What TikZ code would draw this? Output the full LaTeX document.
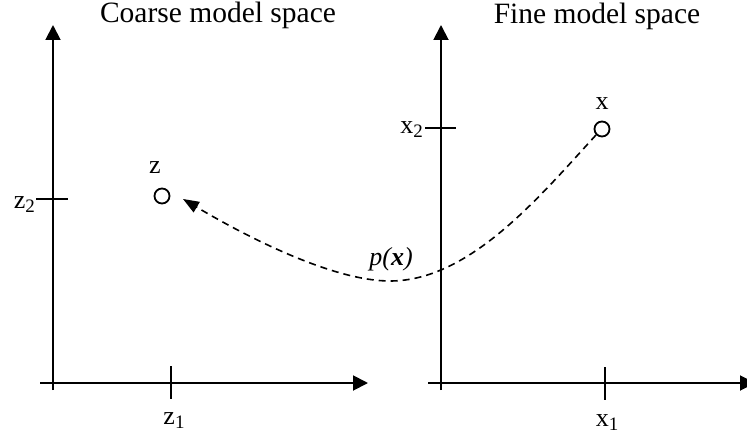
\documentclass[tikz,border=0pt]{standalone}
\usepackage{fontspec}
\setmainfont{Liberation Serif}
\usetikzlibrary{arrows.meta}
\newcommand\mysub[1]{\raisebox{-0.4ex}{\fontsize{19pt}{19pt}\selectfont #1}}
\begin{document}
\begin{tikzpicture}[x=1pt,y=-1pt,
  axis/.style={line width=1.9pt,-{Triangle[length=15pt,width=15pt]}},
  tickline/.style={line width=1.9pt},
  title/.style={font=\fontsize{29.5pt}{29.5pt}\selectfont,anchor=base,inner sep=0},
  lbl/.style={font=\fontsize{26pt}{26pt}\selectfont,inner sep=0},
  pt/.style={circle,draw,line width=1.8pt,minimum size=15pt,inner sep=0},
  mapping/.style={line width=1.6pt,dash pattern=on 7pt off 5pt,-{Triangle[length=16pt,width=12pt]}}]
\useasboundingbox (0,0) rectangle (747,436);
% titles
\node[title] (tc) at (218,23) {Coarse model space};
\node[title] (tf) at (597,24) {Fine model space};
% left axes
\coordinate (lvb) at (53,390);
\coordinate (lvt) at (53,25);
\coordinate (lhl) at (40,383);
\coordinate (lhr) at (368,383);
\draw[axis] (lvb) -- (lvt);
\draw[axis] (lhl) -- (lhr);
% right axes
\coordinate (rvb) at (441,390);
\coordinate (rvt) at (441,25);
\coordinate (rhl) at (428,383);
\coordinate (rhr) at (755,383);
\draw[axis] (rvb) -- (rvt);
\draw[axis] (rhl) -- (rhr);
% ticks
\coordinate (z1a) at (171,366); \coordinate (z1b) at (171,399);
\coordinate (z2a) at (36,199); \coordinate (z2b) at (68,199);
\coordinate (x1a) at (605,367); \coordinate (x1b) at (605,400);
\coordinate (x2a) at (425,128); \coordinate (x2b) at (456,128);
\draw[tickline] (z1a) -- (z1b);
\draw[tickline] (z2a) -- (z2b);
\draw[tickline] (x1a) -- (x1b);
\draw[tickline] (x2a) -- (x2b);
% tick labels
\node[lbl,anchor=base] (lz1) at (174,424) {z\mysub{1}};
\node[lbl,anchor=base east] (lz2) at (35,208) {z\mysub{2}};
\node[lbl,anchor=base] (lx1) at (607,426) {x\mysub{1}};
\node[lbl,anchor=base east] (lx2) at (423,133) {x\mysub{2}};
% points
\node[pt] (zc) at (162,196) {};
\node[pt] (xc) at (602,129) {};
\node[lbl,anchor=base] (zl) at (155,173) {z};
\node[lbl,anchor=base] (xl) at (602,110) {x};
% mapping
\coordinate (mn) at (390,281);
\coordinate (tip) at (183,199);
\draw[mapping] (xc.225) .. controls (540,196) and (470,281) .. (mn)
  .. controls (335,281) and (252,240) .. (tip);
\node[lbl,anchor=base] (pl) at (391,265) {\textit{p(\textbf{x})}};
\end{tikzpicture}
\end{document}
